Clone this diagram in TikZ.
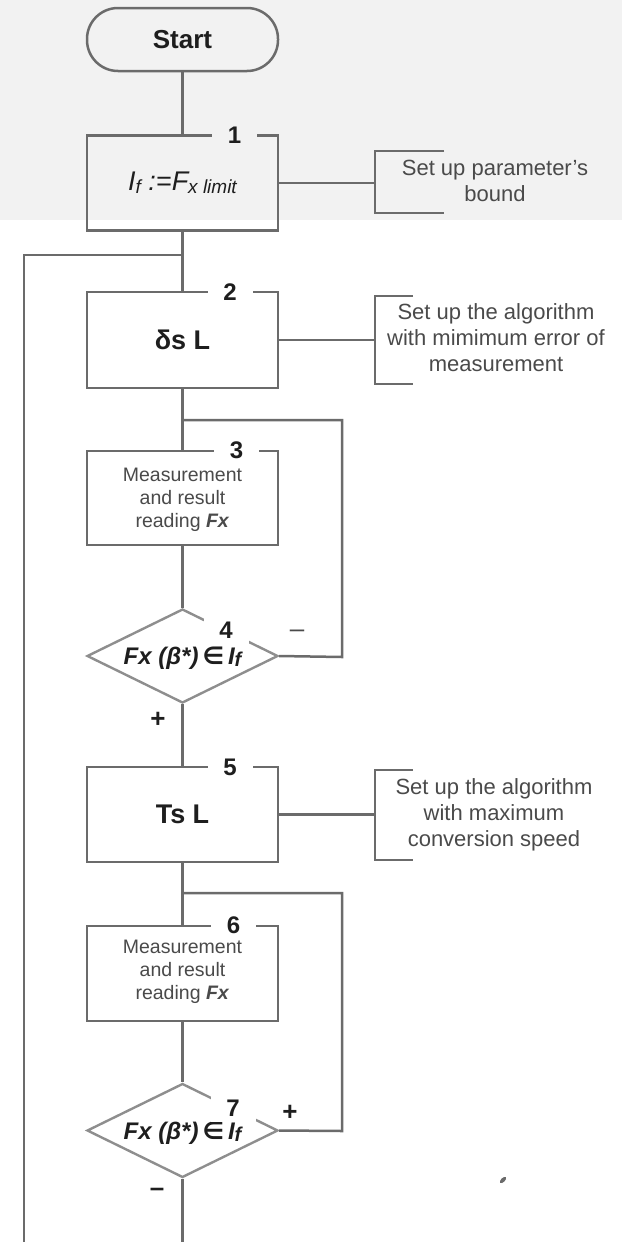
\documentclass[tikz,border=0pt]{standalone}
\usepackage{fontspec}
\setmainfont{Liberation Sans}
\newfontfamily\dejavu{DejaVu Sans}
\usetikzlibrary{shapes.geometric}
\definecolor{bggray}{HTML}{F2F2F2}
\definecolor{ln}{HTML}{6B6B6B}
\definecolor{dln}{HTML}{8E8E8E}
\definecolor{txt}{HTML}{4A4A4A}
\definecolor{dk}{HTML}{1E1E1E}
\newcommand{\sbx}[1]{\raisebox{-3pt}{\fontsize{19}{19}\selectfont #1}}
\newcommand{\sbf}[1]{\raisebox{-2pt}{\fontsize{20}{20}\selectfont #1}}
\tikzset{
  conn/.style={draw=ln, line width=2.5pt},
  boxnode/.style={draw=ln, line width=2.5pt, minimum width=191pt, inner sep=0pt, align=center},
  dia/.style={shape=diamond, draw=dln, line width=2.4pt, minimum width=191pt, minimum height=94pt, inner sep=0pt, fill=white},
  numlab/.style={font=\bfseries\fontsize{24}{24}\selectfont, text=dk, inner sep=0pt, minimum width=45pt, minimum height=16pt, fill=white},
  ann/.style={font=\fontsize{22}{26}\selectfont, text=txt, align=center, inner sep=0pt},
  meas/.style={font=\fontsize{19.5}{23}\selectfont, text=txt, align=center, inner sep=0pt},
  sign/.style={font=\bfseries\fontsize{26}{26}\selectfont, text=dk, inner sep=0pt},
  dtext/.style={font=\bfseries\itshape\fontsize{24}{26}\selectfont, text=dk, inner sep=0pt}
}
\begin{document}
\begin{tikzpicture}[x=1pt,y=-1pt]
\useasboundingbox (0,0) rectangle (622,1242);
\fill[bggray] (0,0) rectangle (622,220);

% nodes
\node[boxnode, rounded corners=31pt, minimum height=63pt, font=\bfseries\fontsize{26}{26}\selectfont, text=dk] (start) at (182.5,39.5) {Start};
\node[boxnode, minimum height=95pt, font=\itshape\fontsize{27}{30}\selectfont, text=dk] (b1) at (182.5,183) {I\sbx{f}\ :=F\sbx{x limit}};
\node[boxnode, minimum height=96pt, fill=white, font=\bfseries\fontsize{27}{27}\selectfont, text=dk] (b2) at (182.5,340) {δs L};
\node[boxnode, minimum height=94pt, fill=white] (b3) at (182.5,498) {};
\node[meas] (b3t) at (182.5,500) {Measurement\\and result\\reading \textbf{\textit{Fx}}};
\node[dia] (d4) at (182.5,656) {};
\node[dtext] (d4t) at (182.5,658) {Fx (β*)\,{\dejavu ∈}\,I\sbf{f}};
\node[boxnode, minimum height=95pt, fill=white, font=\bfseries\fontsize{27}{27}\selectfont, text=dk] (b5) at (182.5,814.5) {Ts L};
\node[boxnode, minimum height=95pt, fill=white] (b6) at (182.5,973.5) {};
\node[meas] (b6t) at (182.5,972) {Measurement\\and result\\reading \textbf{\textit{Fx}}};
\node[dia] (d7) at (182.5,1130.5) {};
\node[dtext] (d7t) at (182.5,1133) {Fx (β*)\,{\dejavu ∈}\,I\sbf{f}};

% annotations
\node[ann] (n1) at (495,181) {Set up parameter’s\\bound};
\node[ann] (n2) at (496,338) {Set up the algorithm\\with mimimum error of\\measurement};
\node[ann] (n5) at (494,815) {Set up the algorithm\\with maximum\\conversion speed};

% brackets
\draw[conn] (444,151) -- (375,151) -- (375,213) -- (444,213);
\draw[conn] (413,296) -- (375,296) -- (375,384) -- (413,384);
\draw[conn] (413,770) -- (375,770) -- (375,860) -- (413,860);
\coordinate (a1) at (375,183);
\coordinate (a2) at (375,340);
\coordinate (a5) at (375,814.5);

% junctions
\coordinate (j1) at (182.5,255);
\coordinate (j3) at (182.5,420);
\coordinate (j6) at (182.5,893);
\coordinate (lb) at (24,1242);
\coordinate (mb) at (182.5,1242);
\coordinate (c4) at (342,657);
\coordinate (c7) at (342,1131);

% connectors
\draw[conn] (start) -- (b1);
\draw[conn] (b1) -- (j1) -- (b2);
\draw[conn] (j1) -| (lb);
\draw[conn] (b2) -- (j3) -- (b3);
\draw[conn] (b3) -- (d4.north);
\draw[conn] (d4.east) -- (c4) |- (j3);
\draw[conn] (d4.south) -- (b5);
\draw[conn] (b5) -- (j6) -- (b6);
\draw[conn] (b6) -- (d7.north);
\draw[conn] (d7.east) -- (c7) |- (j6);
\draw[conn] (d7.south) -- (mb);
\draw[conn] (b1.east) -- (a1);
\draw[conn] (b2.east) -- (a2);
\draw[conn] (b5.east) -- (a5);

% number labels
\node[numlab, fill=bggray] (l1) at (234.5,135) {1};
\node[numlab] (l2) at (230,292) {2};
\node[numlab] (l3) at (236.5,450) {3};
\node[numlab, minimum height=28pt] (l4) at (226,630) {4};
\node[numlab] (l5) at (230,767) {5};
\node[numlab] (l6) at (233.5,925) {6};
\node[numlab, minimum height=28pt] (l7) at (233,1108) {7};

% branch signs
\node[sign, font=\fontsize{26}{26}\selectfont, text=txt] (m4) at (297,634) {–};
\node[sign] (p4) at (158,720) {+};
\node[sign] (p7) at (290,1113) {+};
\node[sign] (m7) at (157,1192) {–};

% small stray mark
\fill[ln, rotate around={45:(503,1180)}] (503,1180) ellipse (4pt and 2pt);
\end{tikzpicture}
\end{document}
